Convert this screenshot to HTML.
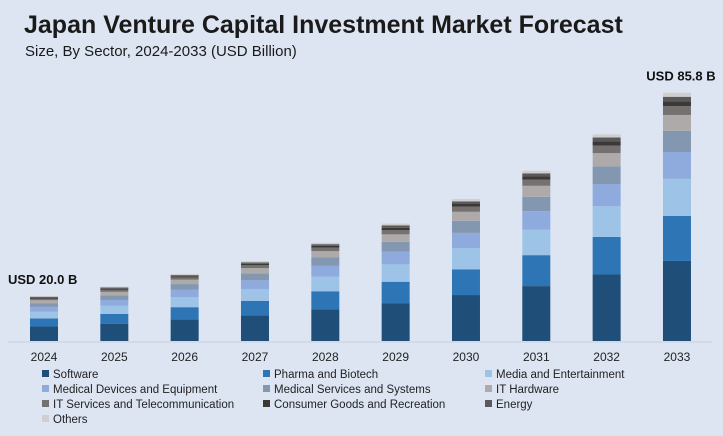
<!DOCTYPE html>
<html><head><meta charset="utf-8"><style>
body{margin:0;background:#dde5f3;font-family:"Liberation Sans",sans-serif}
svg{display:block}
</style></head><body>
<svg id="c" width="723" height="436">
<rect width="723" height="436" fill="#dde5f3"/>
<text x="24" y="33" font-size="25" font-weight="bold" fill="#1a1a1a">Japan Venture Capital Investment Market Forecast</text>
<text x="25" y="56" font-size="15" fill="#1a1a1a">Size, By Sector, 2024-2033 (USD Billion)</text>
<line x1="8" y1="342" x2="712" y2="342" stroke="#c8cfdc" stroke-width="1"/>
<g id="bars"></g><g id="labels"></g><g id="legend"></g>
</svg>
<script>
const years=["2024","2025","2026","2027","2028","2029","2030","2031","2032","2033"];
const series=["Software","Pharma and Biotech","Media and Entertainment","Medical Devices and Equipment","Medical Services and Systems","IT Hardware","IT Services and Telecommunication","Consumer Goods and Recreation","Energy","Others"];
const colors=["#1f4e79","#2e75b6","#9dc3e6","#8faadc","#8497b0","#aeaaaa","#767171","#3b3838","#595959","#d0cece"];
const software=[5.0,6.0,7.5,8.9,11.0,13.1,15.9,19.0,23.0,27.7];
const pharma=[2.8,3.4,4.2,5.0,6.2,7.4,8.9,10.7,13.0,15.6];
const media=[2.3,2.8,3.5,4.1,5.1,6.0,7.3,8.8,10.6,12.8];
const meddev=[1.7,2.0,2.5,3.0,3.7,4.4,5.3,6.4,7.7,9.3];
const medserv=[1.3,1.6,2.0,2.4,2.9,3.4,4.2,5.0,6.1,7.3];
const ithw=[1.0,1.2,1.5,1.8,2.2,2.6,3.1,3.8,4.6,5.5];
const itserv=[0.6,0.7,0.8,1.0,1.2,1.5,1.8,2.1,2.6,3.1];
const consumer=[0.3,0.4,0.4,0.5,0.6,0.8,0.9,1.1,1.4,1.6];
const energy=[0.3,0.4,0.4,0.5,0.6,0.8,0.9,1.1,1.4,1.6];
const others=[0.3,0.3,0.4,0.4,0.5,0.6,0.8,0.9,1.1,1.4];
const annotations=[{i:0,text:"USD 20.0 B"},{i:9,text:"USD 85.8 B"}];
const data=[software,pharma,media,meddev,medserv,ithw,itserv,consumer,energy,others];
const NS="http://www.w3.org/2000/svg";
const base=341, pxPer=248/85.8, bw=28;
const x=i=>44+i*70.33;
const y=v=>base-v*pxPer;
const bars=document.getElementById("bars"), labels=document.getElementById("labels"), legend=document.getElementById("legend");
function mk(tag,attrs,parent){const e=document.createElementNS(NS,tag);for(const k in attrs)e.setAttribute(k,attrs[k]);parent.appendChild(e);return e;}
const tops=[];
years.forEach((yr,i)=>{
  let cum=0;
  data.forEach((s,j)=>{
    const r=mk("rect",{x:x(i)-bw/2,y:y(cum+s[i]),width:bw,height:y(cum)-y(cum+s[i]),fill:colors[j]},bars);
    
    
    cum+=s[i];
  });
  tops.push(cum);
  const t=mk("text",{x:x(i),y:361,"font-size":12,"text-anchor":"middle",fill:"#222"},labels);
  t.textContent=yr;
  
  
});
annotations.forEach(a=>{
  const t=mk("text",{x:a.i===0?8:x(a.i)+4,y:y(tops[a.i])-12,"font-size":13,"font-weight":"bold","text-anchor":a.i===0?"start":"middle",fill:"#111"},labels);
  t.textContent=a.text;
  
  
});
const lx=[42,263,485];
series.forEach((s,j)=>{
  const col=j%3,row=Math.floor(j/3);
  const g=mk("g",{},legend);
  
  
  mk("rect",{x:lx[col],y:370+row*15,width:7,height:7,fill:colors[j]},g);
  const t=mk("text",{x:lx[col]+11,y:378+row*15,"font-size":11.5,fill:"#222"},g);
  t.textContent=s;
});
</script>
</body></html>
